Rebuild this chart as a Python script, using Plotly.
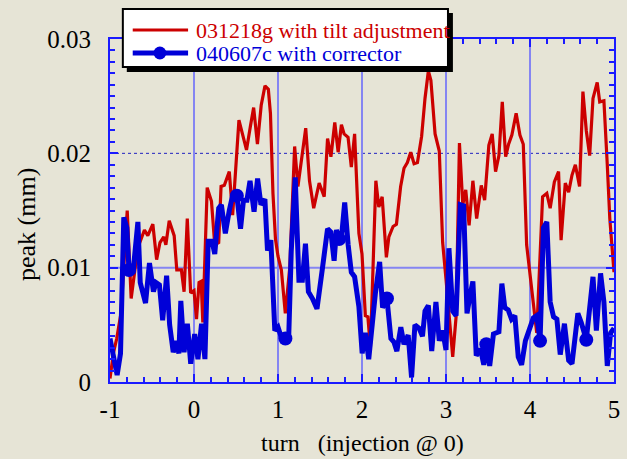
import numpy as np
import plotly.graph_objects as go

# Beam peak excursion vs. turn number (injection at turn 0), peak in micrometres
red_turn = [-1.00, -0.96, -0.92, -0.87, -0.795, -0.748, -0.67, -0.59, -0.55, -0.49,
            -0.445, -0.405, -0.36, -0.335, -0.295, -0.236, -0.205, -0.15, -0.118, -0.08,
            -0.04, 0.0, 0.03, 0.06, 0.085, 0.105, 0.157, 0.208, 0.247, 0.294,
            0.322, 0.361, 0.42, 0.46, 0.535, 0.58, 0.625, 0.67, 0.71, 0.755,
            0.80, 0.845, 0.885, 0.91, 0.94, 0.97, 1.0, 1.04, 1.087, 1.14,
            1.198, 1.237, 1.33, 1.375, 1.425, 1.49, 1.55, 1.59, 1.63, 1.676,
            1.716, 1.755, 1.787, 1.834, 1.873, 1.912, 1.963, 2.0, 2.04, 2.07,
            2.1, 2.165, 2.2, 2.24, 2.29, 2.32, 2.37, 2.41, 2.46, 2.5,
            2.54, 2.58, 2.62, 2.66, 2.71, 2.75, 2.79, 2.82, 2.87, 2.92,
            2.96, 3.0, 3.04, 3.08, 3.12, 3.16, 3.2, 3.235, 3.275, 3.32,
            3.365, 3.42, 3.46, 3.51, 3.55, 3.59, 3.63, 3.67, 3.71, 3.745,
            3.784, 3.835, 3.88, 3.92, 3.96, 4.0, 4.04, 4.08, 4.15, 4.2,
            4.24, 4.29, 4.34, 4.37, 4.42, 4.46, 4.5, 4.54, 4.59, 4.63,
            4.67, 4.71, 4.75, 4.8, 4.83, 4.88, 4.92, 4.95, 5.0]
red_peak_um = [0.3, 2.5, 3.8, 6.0, 15.0, 7.3, 11.7, 13.3, 12.8, 13.8,
               10.7, 12.2, 12.7, 12.0, 14.1, 12.8, 9.8, 9.8, 7.9, 14.3,
               7.8, 8.0, 5.5, 8.7, 8.8, 5.2, 17.0, 15.8, 12.0, 12.2,
               17.1, 17.2, 18.4, 14.6, 22.9, 21.6, 20.3, 22.3, 24.0, 20.8,
               24.2, 25.9, 25.6, 23.5, 16.5, 12.5, 11.0, 9.8, 6.0, 10.0,
               20.6, 17.1, 22.2, 17.6, 15.2, 17.4, 16.2, 21.3, 19.7, 22.7,
               20.1, 22.5, 21.7, 21.4, 18.8, 21.7, 13.0, 11.2, 5.8, 5.7,
               3.0, 17.6, 15.3, 16.2, 10.9, 12.7, 13.6, 13.8, 17.1, 18.7,
               19.2, 20.1, 19.1, 19.2, 21.5, 24.8, 27.2, 26.4, 21.7, 20.2,
               12.2, 9.0, 5.4, 2.2, 5.7, 20.9, 15.5, 16.8, 13.7, 17.6,
               14.3, 17.2, 15.9, 20.7, 21.7, 18.4, 19.8, 24.5, 19.7, 20.8,
               21.6, 23.5, 21.6, 20.8, 12.0, 9.3, 6.5, 4.3, 16.2, 16.5,
               15.2, 17.5, 18.4, 12.4, 17.4, 16.6, 18.1, 19.0, 17.1, 25.4,
               22.0, 19.8, 24.8, 26.2, 24.5, 24.6, 19.0, 14.3, 9.6]

blue_turn = [-1.0, -0.954, -0.915, -0.875, -0.836, -0.80, -0.774, -0.727, -0.668, -0.64,
             -0.577, -0.53, -0.483, -0.452, -0.412, -0.373, -0.326, -0.29, -0.247, -0.208,
             -0.18, -0.157, -0.118, -0.079, -0.039, 0.008, 0.047, 0.09, 0.13, 0.169,
             0.216, 0.247, 0.294, 0.326, 0.373, 0.42, 0.459, 0.51, 0.554, 0.589,
             0.63, 0.667, 0.715, 0.757, 0.797, 0.844, 0.875, 0.915, 0.962, 1.0,
             1.04, 1.088, 1.127, 1.158, 1.205, 1.249, 1.29, 1.327, 1.362, 1.41,
             1.464, 1.53, 1.59, 1.63, 1.668, 1.696, 1.728, 1.76, 1.794, 1.835,
             1.873, 1.912, 1.963, 2.002, 2.04, 2.08, 2.12, 2.16, 2.21, 2.245,
             2.297, 2.344, 2.38, 2.415, 2.462, 2.5, 2.55, 2.59, 2.63, 2.68,
             2.72, 2.75, 2.79, 2.83, 2.88, 2.92, 2.96, 3.0, 3.035, 3.08,
             3.12, 3.17, 3.21, 3.25, 3.29, 3.32, 3.36, 3.41, 3.45, 3.48,
             3.52, 3.565, 3.63, 3.665, 3.7, 3.74, 3.78, 3.82, 3.86, 3.9,
             3.945, 4.0, 4.04, 4.08, 4.12, 4.16, 4.2, 4.24, 4.28, 4.32,
             4.36, 4.41, 4.46, 4.5, 4.57, 4.61, 4.67, 4.75, 4.79, 4.84,
             4.88, 4.92, 4.96, 5.0]
blue_peak_um = [3.8, 2.2, 0.6, 2.5, 14.4, 13.5, 9.8, 9.5, 14.0, 8.7,
                6.9, 10.4, 7.9, 8.7, 8.5, 5.4, 9.3, 5.0, 2.6, 3.6,
                2.5, 7.1, 2.6, 5.1, 1.6, 4.2, 2.0, 5.1, 2.0, 12.3,
                12.3, 11.2, 15.2, 15.5, 13.0, 15.0, 16.3, 16.3, 13.4, 15.9,
                15.9, 17.6, 14.9, 17.8, 15.5, 16.0, 11.5, 12.4, 4.5, 4.8,
                3.9, 3.8, 3.8, 11.5, 17.9, 8.9, 8.9, 12.1, 7.9, 7.3,
                6.4, 10.0, 13.4, 13.1, 10.6, 13.3, 12.5, 13.0, 15.7, 12.0,
                9.6, 9.2, 6.6, 2.5, 4.3, 2.0, 5.0, 7.8, 10.5, 6.5,
                7.3, 3.8, 3.5, 2.7, 4.8, 3.3, 4.1, 0.4, 5.0, 4.7,
                4.0, 6.2, 6.7, 2.7, 7.0, 3.6, 4.5, 2.8, 11.7, 6.2,
                5.8, 15.5, 15.4, 6.0, 7.7, 8.8, 2.3, 2.9, 1.5, 3.3,
                1.4, 4.2, 4.4, 8.6, 6.5, 6.3, 5.5, 5.8, 2.2, 1.5,
                3.6, 4.6, 5.6, 5.8, 3.6, 13.5, 14.0, 7.0, 5.7, 5.5,
                2.4, 5.1, 1.9, 1.6, 6.0, 5.2, 3.7, 9.2, 4.5, 9.5,
                7.0, 1.4, 4.3, 4.7]
# turns at which the corrector run carries a symbol
blue_marker_turns = [-0.774, 0.51, 1.088, 1.728, 2.297, 3.48, 4.12, 4.67]

x_ticks = [-1, 0, 1, 2, 3, 4, 5]
y_ticks = [0, 0.01, 0.02, 0.03]

red_name = "031218g with tilt adjustment"
blue_name = "040607c with corrector"

RED = "#cc0000"
BLUE = "#0000d8"
FRAME = "#1a1aff"
GRID = "#8585f2"
BG = "#e6e4d6"
SERIF = "Liberation Serif, Times New Roman, serif"

red_mm = np.array(red_peak_um) / 1000.0
blue_mm = np.array(blue_peak_um) / 1000.0
mk_idx = [blue_turn.index(t) for t in blue_marker_turns]

W, H = 627, 459
L, R, T, B = 110, 7, 39, 77
PW, PH = W - L - R, H - T - B


def px(x):
    return (x - L) / PW


def py(y):
    return (H - B - y) / PH


fig = go.Figure()
fig.add_trace(go.Scatter(x=red_turn, y=red_mm, mode="lines",
                         line=dict(color=RED, width=3.2), showlegend=False))
fig.add_trace(go.Scatter(x=blue_turn, y=blue_mm, mode="lines",
                         line=dict(color=BLUE, width=5), showlegend=False))
fig.add_trace(go.Scatter(x=[blue_turn[i] for i in mk_idx],
                         y=[blue_mm[i] for i in mk_idx], mode="markers",
                         marker=dict(color=BLUE, size=14, line=dict(width=0)),
                         showlegend=False))

shapes = [
    # horizontal reference lines
    dict(type="line", xref="paper", x0=0, x1=1, yref="y", y0=0.01, y1=0.01,
         line=dict(color=GRID, width=2), layer="below"),
    dict(type="line", xref="paper", x0=0, x1=1, yref="y", y0=0.02, y1=0.02,
         line=dict(color="#2020c0", width=1, dash="dot"), layer="below"),
    # legend frame with drop shadow
    dict(type="rect", xref="paper", yref="paper", x0=px(127), x1=px(457),
         y0=py(13), y1=py(72), fillcolor="black", line=dict(width=0), layer="above"),
    dict(type="rect", xref="paper", yref="paper", x0=px(123), x1=px(452),
         y0=py(9), y1=py(67), fillcolor="white", line=dict(color="black", width=2),
         layer="above"),
    dict(type="line", xref="paper", yref="paper", x0=px(133), x1=px(189),
         y0=py(30), y1=py(30), line=dict(color=RED, width=3), layer="above"),
    dict(type="line", xref="paper", yref="paper", x0=px(133), x1=px(189),
         y0=py(53), y1=py(53), line=dict(color=BLUE, width=5), layer="above"),
    dict(type="circle", xref="paper", yref="paper", x0=px(154), x1=px(167),
         y0=py(46.5), y1=py(59.5), fillcolor=BLUE, line=dict(width=0), layer="above"),
]

annotations = [
    dict(text=red_name, xref="paper", yref="paper", x=px(195), y=py(30),
         xanchor="left", yanchor="middle", showarrow=False,
         font=dict(family=SERIF, size=22, color=RED)),
    dict(text=blue_name, xref="paper", yref="paper", x=px(195), y=py(53),
         xanchor="left", yanchor="middle", showarrow=False,
         font=dict(family=SERIF, size=22, color=BLUE)),
    dict(text="turn\u00a0\u00a0\u00a0(injection @ 0)", xref="paper", yref="paper",
         x=0.5, y=py(443), xanchor="center", yanchor="middle", showarrow=False,
         font=dict(family=SERIF, size=24, color="black")),
    dict(text="peak (mm)", xref="paper", yref="paper", x=px(25), y=py(225),
         xanchor="center", yanchor="middle", showarrow=False, textangle=-90,
         font=dict(family=SERIF, size=26, color="black")),
]

fig.update_layout(
    width=W, height=H,
    margin=dict(l=L, r=R, t=T, b=B, pad=0),
    paper_bgcolor=BG, plot_bgcolor=BG,
    showlegend=False,
    shapes=shapes, annotations=annotations,
    font=dict(family=SERIF, size=25, color="black"),
)
fig.update_xaxes(
    range=[-1, 5], tickvals=x_ticks, ticktext=[str(v) for v in x_ticks],
    showgrid=True, gridcolor=GRID, gridwidth=2, zeroline=False,
    showline=True, linecolor=FRAME, linewidth=2, mirror="ticks",
    ticks="inside", ticklen=8, tickcolor=FRAME, tickwidth=1.5,
    ticklabelstandoff=4,
    minor=dict(dtick=0.2, ticks="inside", ticklen=5, tickcolor=FRAME,
               tickwidth=1.5, showgrid=False),
    tickfont=dict(family=SERIF, size=25, color="black"),
)
fig.update_yaxes(
    range=[0, 0.03], tickvals=y_ticks, ticktext=["0", "0.01", "0.02", "0.03"],
    showgrid=False, zeroline=False,
    showline=True, linecolor=FRAME, linewidth=2, mirror="ticks",
    ticks="inside", ticklen=8, tickcolor=FRAME, tickwidth=1.5,
    ticklabelstandoff=12,
    minor=dict(dtick=0.001, ticks="inside", ticklen=5, tickcolor=FRAME,
               tickwidth=1.5, showgrid=False),
    tickfont=dict(family=SERIF, size=25, color="black"),
)

fig.write_html("out.html")
